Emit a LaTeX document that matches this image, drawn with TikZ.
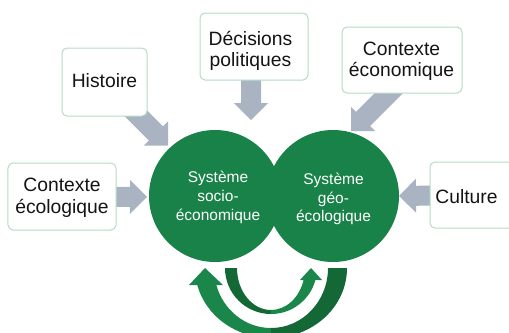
\documentclass[tikz,border=0pt]{standalone}
\usepackage{fontspec}
\setmainfont{Liberation Sans}
\usetikzlibrary{calc,backgrounds}

\definecolor{sysgreen}{RGB}{25,130,72}
\definecolor{loopdark}{RGB}{20,104,54}
\definecolor{looplight}{RGB}{27,134,74}
\definecolor{flowgray}{RGB}{169,179,193}
\definecolor{boxline}{RGB}{180,220,195}
\definecolor{inktext}{RGB}{20,20,20}

\tikzset{
  factor/.style={draw=boxline, line width=1bp, fill=white, rounded corners=5bp, inner sep=0pt},
  factortext/.style={align=center, text=inktext, inner sep=0pt,
    font=\fontsize{19.3bp}{21.5bp}\selectfont},
  system/.style={circle, fill=sysgreen, minimum size=132bp, inner sep=0pt},
  systemtext/.style={align=center, text=white, inner sep=0pt,
    font=\fontsize{15.5bp}{18.8bp}\selectfont},
  % block arrow: shaft 20bp wide, head 34bp wide and 17bp long
  influence/.style={fill=flowgray, to path={
    ($(\tikztostart)!10bp!90:(\tikztotarget)$)
    -- ($(\tikztotarget)!17bp!(\tikztostart)!10bp!-90:(\tikztostart)$)
    -- ($(\tikztotarget)!17bp!(\tikztostart)!17bp!-90:(\tikztostart)$)
    -- (\tikztotarget)
    -- ($(\tikztotarget)!17bp!(\tikztostart)!17bp!90:(\tikztostart)$)
    -- ($(\tikztotarget)!17bp!(\tikztostart)!10bp!90:(\tikztostart)$)
    -- ($(\tikztostart)!10bp!-90:(\tikztotarget)$)
    -- cycle}}
}

\begin{document}
\begin{tikzpicture}[x=1bp, y=-1bp]
\useasboundingbox (0,0) rectangle (509,332);

% the two systems
\node[system] (soc) at (215,196) {};
\node[system] (geo) at (333,196) {};
\node[systemtext] (soc-label) at (218,197.2) {Système\\socio-\\économique};
\node[systemtext] (geo-label) at (333.5,199) {Système\\géo-\\écologique};

% external factors
\node[factor, minimum width=108bp, minimum height=67bp] (ecol) at (62,196.5) {};
\node[factor, minimum width=85bp,  minimum height=68bp] (hist) at (104.5,82) {};
\node[factor, minimum width=108bp, minimum height=67bp] (dec)  at (254,46.5) {};
\node[factor, minimum width=120bp, minimum height=66bp] (econ) at (402,60) {};
\node[factor, minimum width=90bp,  minimum height=66bp] (cult) at (475,195) {};

\node[factortext] (ecol-label) at (62,197.7)    {Contexte\\écologique};
\node[factortext] (hist-label) at (104.5,80.5)  {Histoire};
\node[factortext] (dec-label)  at (250.5,51)    {Décisions\\politiques};
\node[factortext] (econ-label) at (401.5,61.2)  {Contexte\\économique};
\node[factortext] (cult-label) at (466.5,196.7) {Culture};

% arrow tips and hidden arrow roots
\coordinate (ecol-tip) at (147,197);
\coordinate (hist-tip) at (168,145.5);
\coordinate (dec-root) at (251,50);
\coordinate (dec-tip)  at (251,120);
\coordinate (econ-root) at (410,72);
\coordinate (econ-tip) at (351,131);
\coordinate (cult-tip) at (399,196);

\begin{scope}[on background layer]
  \path[influence] (ecol) to (ecol-tip);
  \path[influence] (hist) to (hist-tip);
  \path[influence] (dec-root) to (dec-tip);
  \path[influence] (econ-root) to (econ-tip);
  \path[influence] (cult) to (cult-tip);
\end{scope}

% feedback loop, inner arrow: socio -> geo
\fill[loopdark] (225,268) arc[start angle=180, end angle=90, x radius=46, y radius=46]
  -- (271,310) arc[start angle=90, end angle=180, x radius=34, y radius=42] -- cycle;
\fill[looplight] (271,314) arc[start angle=90, end angle=15.1, x radius=46, y radius=46]
  -- (322,280) -- (311,268) -- (300,280) -- (303.6,280)
  arc[start angle=16.6, end angle=90, x radius=34, y radius=42] -- cycle;

% feedback loop, outer arrow: geo -> socio
\fill[loopdark] (347,268) arc[start angle=0, end angle=90, x radius=76, y radius=70]
  -- (271,328) arc[start angle=90, end angle=0, x radius=57, y radius=60] -- cycle;
\fill[looplight] (271,338) arc[start angle=90, end angle=165.95, x radius=76, y radius=70]
  -- (189,285) -- (205,268) -- (223,285) -- (216.3,285)
  arc[start angle=163.54, end angle=90, x radius=57, y radius=60] -- cycle;
\end{tikzpicture}
\end{document}
